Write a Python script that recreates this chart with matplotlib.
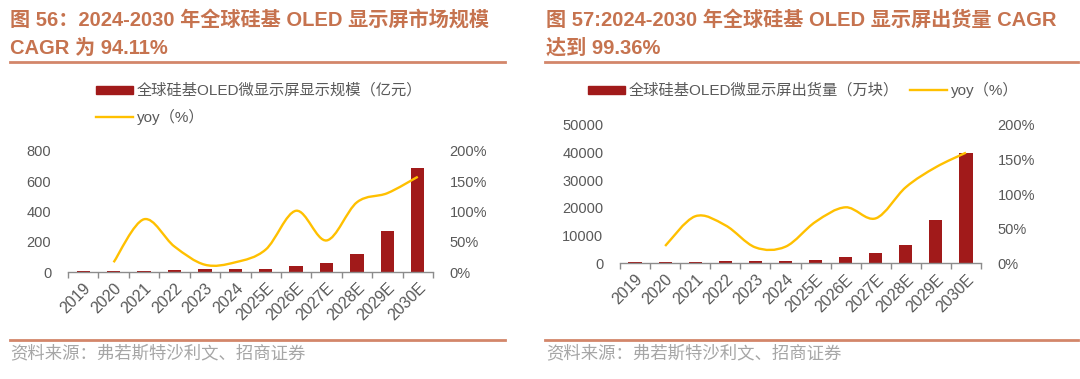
import matplotlib.pyplot as plt
import numpy as np
from matplotlib.path import Path
from matplotlib.patches import PathPatch, Rectangle
from matplotlib.lines import Line2D
import matplotlib.ticker as mtick

plt.rcParams['font.family'] = ['Liberation Sans', 'Noto Sans CJK SC']

# ---- data ----
years = ['2019', '2020', '2021', '2022', '2023', '2024',
         '2025E', '2026E', '2027E', '2028E', '2029E', '2030E']
# 图56: 市场规模 (亿元) and yoy (%) from 2020
scale = [5, 6, 9, 13, 17, 17, 20, 38, 58, 122, 272, 688]
scale_yoy = [16, 87, 42, 12, 16, 37, 101, 52, 115, 130, 157]
# 图57: 出货量 (万块) and yoy (%) from 2020
ship = [450, 380, 480, 700, 950, 850, 1300, 2300, 3600, 6700, 15500, 40000]
ship_yoy = [25, 68, 55, 23, 24, 60, 81, 65, 110, 139, 160]

titles = [["图 56：2024-2030 年全球硅基 OLED 显示屏市场规模", "CAGR 为 94.11%"],
          ["图 57:2024-2030 年全球硅基 OLED 显示屏出货量 CAGR", "达到 99.36%"]]
bar_labels = ["全球硅基OLED微显示屏显示规模（亿元）", "全球硅基OLED微显示屏出货量（万块）"]
source = "资料来源：弗若斯特沙利文、招商证券"

BAR = '#A11A1A'
GOLD = '#FFC000'
TITLE_C = '#C6734F'
RULE_C = '#D3866A'
TXT = '#595959'

W, H = 1080, 379
fig = plt.figure(figsize=(W / 100, H / 100), dpi=100)


def fx(px):
    return px / W


def fy(py):
    return 1 - py / H


def smooth_path(xs, ys):
    # Excel style smoothed line (Catmull-Rom as cubic Bezier)
    pts = np.column_stack([xs, ys]).astype(float)
    n = len(pts)
    verts = [pts[0]]
    codes = [Path.MOVETO]
    for i in range(n - 1):
        p0 = pts[i - 1] if i > 0 else pts[i]
        p1 = pts[i]
        p2 = pts[i + 1]
        p3 = pts[i + 2] if i + 2 < n else pts[i + 1]
        verts += [p1 + (p2 - p0) / 6, p2 - (p3 - p1) / 6, p2]
        codes += [Path.CURVE4] * 3
    return Path(verts, codes)


def panel(x0, x1, ybase, ytop, vals, yoy, ymax, ystep, title, blabel,
          title_x, rule, leg, legline):
    ax = fig.add_axes([fx(x0), fy(ybase), fx(x1 - x0), (ybase - ytop) / H])
    x = np.arange(len(years))
    ax.bar(x, vals, width=0.44, color=BAR, zorder=2)
    ax.set_xlim(-0.5, len(years) - 0.5)
    ax.set_ylim(0, ymax)
    ax.set_yticks(np.arange(0, ymax + 1, ystep))
    ax.set_xticks(x)
    ax.set_xticklabels(years, rotation=45, ha='right', rotation_mode='anchor')
    ax.set_xticks(np.arange(-0.5, len(years), 1), minor=True)
    ax.tick_params(axis='x', which='major', length=0, pad=6, labelsize=11.5, labelcolor=TXT)
    ax.tick_params(axis='x', which='minor', length=4, color='#8C8C8C', width=1)
    ax.tick_params(axis='y', length=0, pad=12, labelsize=10.5, labelcolor=TXT)
    for s in ['top', 'left', 'right']:
        ax.spines[s].set_visible(False)
    ax.spines['bottom'].set_color('#8C8C8C')
    ax.spines['bottom'].set_linewidth(1)

    ax2 = ax.twinx()
    ax2.set_ylim(0, 200)
    ax2.set_yticks([0, 50, 100, 150, 200])
    ax2.yaxis.set_major_formatter(mtick.FormatStrFormatter('%d%%'))
    ax2.tick_params(axis='y', length=0, pad=12, labelsize=10.5, labelcolor=TXT)
    for s in ax2.spines.values():
        s.set_visible(False)
    ax2.add_patch(PathPatch(smooth_path(x[1:], yoy), fill=False,
                            edgecolor=GOLD, lw=1.7, zorder=3))

    # title
    fig.text(fx(title_x), fy(20), title[0], fontsize=14.5, fontweight='bold',
             color=TITLE_C, va='center', ha='left')
    fig.text(fx(title_x), fy(48), title[1], fontsize=14.5, fontweight='bold',
             color=TITLE_C, va='center', ha='left')
    fig.add_artist(Line2D([fx(rule[0]), fx(rule[1])], [fy(62), fy(62)],
                          color=RULE_C, lw=2))
    fig.add_artist(Line2D([fx(rule[0]), fx(rule[1])], [fy(340), fy(340)],
                          color=RULE_C, lw=2))
    fig.text(fx(title_x), fy(353), source, fontsize=12.5, color='#A6A6A6',
             va='center', ha='left')

    # legend
    fig.add_artist(Rectangle((fx(leg[0]), fy(94)), fx(37), 8 / H,
                             transform=fig.transFigure, color=BAR))
    fig.text(fx(leg[0] + 41), fy(90), blabel, fontsize=11, color=TXT,
             va='center', ha='left')
    fig.add_artist(Line2D([fx(legline[0]), fx(legline[0] + 37)],
                          [fy(legline[1]), fy(legline[1])], color=GOLD, lw=1.7))
    fig.text(fx(legline[0] + 41), fy(legline[1]), "yoy（%）", fontsize=11,
             color=TXT, va='center', ha='left')


panel(68, 433, 272, 150.7, scale, scale_yoy, 800, 200, titles[0], bar_labels[0],
      10, (10, 505), (96,), (96, 117))
panel(620, 981, 263.3, 125, ship, ship_yoy, 50000, 10000, titles[1], bar_labels[1],
      546, (545, 1078), (588,), (910, 90))

fig.savefig('out.png', dpi=100)
